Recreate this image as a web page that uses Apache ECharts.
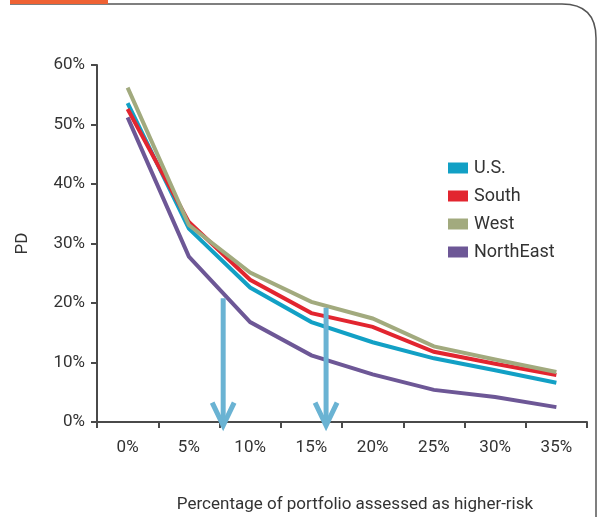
<!DOCTYPE html>
<html>
<head>
<meta charset="utf-8">
<script src="https://cdn.jsdelivr.net/npm/echarts@6/dist/echarts.min.js"></script>
<style>
  html, body { margin: 0; padding: 0; background: #fff; }
  #chart { width: 597px; height: 517px; }
</style>
</head>
<body>
<div id="chart"></div>
<script>
// categories on the x axis
const categories = ['0%', '5%', '10%', '15%', '20%', '25%', '30%', '35%'];

// PD values (%)
const usData = [53.6, 32.5, 22.6, 16.8, 13.4, 10.7, 8.7, 6.6];
const southData = [52.6, 33.6, 23.9, 18.3, 16.0, 11.8, 9.8, 7.9];
const westData = [56.2, 33.1, 25.1, 20.2, 17.4, 12.7, 10.5, 8.4];
const northEastData = [51.2, 27.8, 16.8, 11.2, 8.0, 5.4, 4.2, 2.5];

// arrows: [x in % of portfolio, top of arrow in PD %]
const arrowData = [[7.8, 20.8], [16.2, 19.2]];

const yTicks = { min: 0, max: 60, interval: 10 };

const font = 'Roboto';
const textColor = '#333';
const axisColor = '#4a4a4a';

function lineSeries(name, data, color, z) {
    return {
        name: name,
        type: 'line',
        data: data,
        z: z,
        showSymbol: false,
        symbol: 'none',
        lineStyle: { color: color, width: 4, join: 'miter' },
        itemStyle: { color: color },
        emphasis: { disabled: true }
    };
}

let frameStyle = { stroke: '#555', lineWidth: 1.5, fill: null };

let option = {
    animation: false,
    textStyle: { fontFamily: font },
    grid: { left: 97, right: 10, top: 65, bottom: 95, outerBoundsMode: 'none', containLabel: false },
    legend: {
        orient: 'vertical',
        left: 443,
        top: 154,
        icon: 'rect',
        itemWidth: 20,
        itemHeight: 11,
        itemGap: 10,
        textStyle: { fontFamily: font, fontSize: 18, color: textColor, padding: [0, 0, 0, 1] },
        data: ['U.S.', 'South', 'West', 'NorthEast']
    },
    xAxis: [{
        type: 'category',
        data: categories,
        boundaryGap: true,
        name: 'Percentage of portfolio assessed as higher-risk',
        nameLocation: 'middle',
        nameGap: 74,
        nameTextStyle: { fontFamily: font, fontSize: 17, color: textColor, padding: [0, 0, 0, 26] },
        axisLine: { lineStyle: { color: axisColor, width: 2 } },
        axisTick: { show: true, length: 6, lineStyle: { color: axisColor, width: 2 } },
        axisLabel: { fontFamily: font, fontSize: 17, color: textColor, margin: 17 },
        splitLine: { show: false }
    }, {
        // hidden value axis used to place the arrows in % units
        type: 'value',
        min: -2.5,
        max: 37.5,
        show: false
    }],
    yAxis: {
        type: 'value',
        min: yTicks.min,
        max: yTicks.max,
        interval: yTicks.interval,
        name: 'PD',
        nameLocation: 'middle',
        nameGap: 66,
        nameTextStyle: { fontFamily: font, fontSize: 17, color: textColor },
        axisLine: { show: true, onZero: false, lineStyle: { color: axisColor, width: 2 } },
        axisTick: { show: true, length: 6, lineStyle: { color: axisColor, width: 2 } },
        axisLabel: { formatter: '{value}%', fontFamily: font, fontSize: 17, color: textColor, margin: 12 },
        splitLine: { show: false }
    },
    graphic: [{
        type: 'line',
        shape: { x1: 10, y1: 4, x2: 562, y2: 4 },
        style: frameStyle
    }, {
        type: 'bezierCurve',
        shape: { x1: 562, y1: 4, cpx1: 596, cpy1: 4, x2: 596, y2: 38 },
        style: frameStyle
    }, {
        type: 'line',
        shape: { x1: 596, y1: 38, x2: 596, y2: 517 },
        style: frameStyle
    }, {
        type: 'rect',
        shape: { x: 10, y: 0, width: 98, height: 4 },
        style: { fill: '#ef6234' }
    }],
    series: [
        lineSeries('U.S.', usData, '#12a0c5', 2),
        lineSeries('South', southData, '#e2252f', 3),
        lineSeries('West', westData, '#a2aa7e', 4),
        lineSeries('NorthEast', northEastData, '#6d5796', 1),
        {
            type: 'custom',
            name: 'arrows',
            xAxisIndex: 1,
            z: 5,
            data: arrowData,
            renderItem: function (params, api) {
                let top = api.coord([api.value(0), api.value(1)]);
                let tip = api.coord([api.value(0), -0.6]);
                let style = { stroke: '#6ab3d3', lineWidth: 5, fill: null };
                return {
                    type: 'group',
                    children: [{
                        type: 'line',
                        shape: { x1: top[0], y1: top[1], x2: tip[0], y2: tip[1] - 3 },
                        style: style
                    }, {
                        type: 'polyline',
                        shape: { points: [[tip[0] - 11, tip[1] - 23], [tip[0], tip[1]], [tip[0] + 11, tip[1] - 23]] },
                        style: Object.assign({ lineJoin: 'miter' }, style)
                    }]
                };
            }
        }
    ]
};

let chart = echarts.init(document.getElementById('chart'), null, { renderer: 'canvas' });
chart.setOption(option);
</script>
</body>
</html>
